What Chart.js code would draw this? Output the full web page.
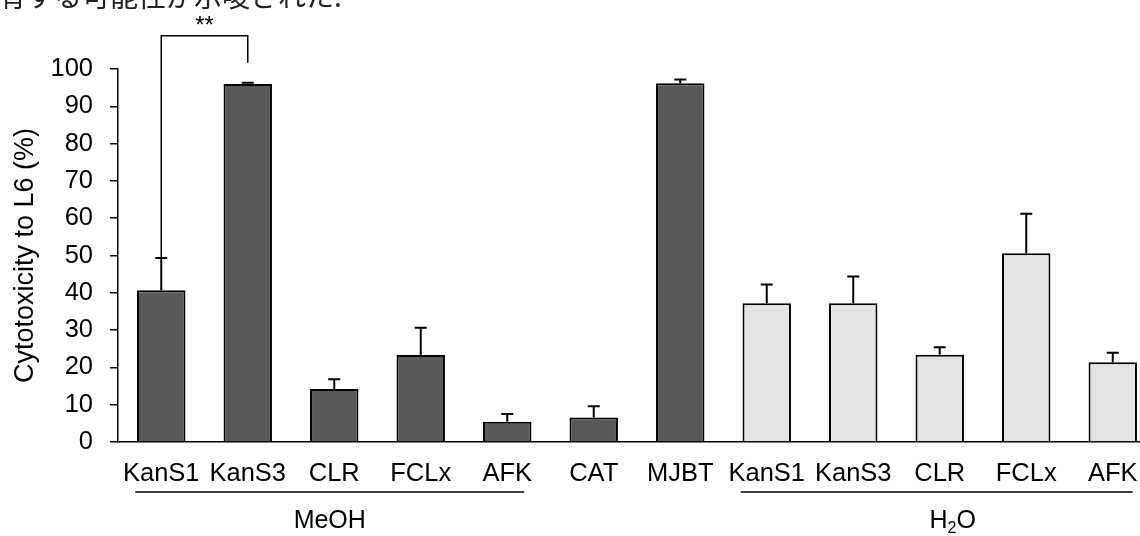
<!DOCTYPE html>
<html>
<head>
<meta charset="utf-8">
<script src="https://cdn.jsdelivr.net/npm/chart.js@4.4.1/dist/chart.umd.min.js"></script>
<style>
  html, body { margin: 0; padding: 0; background: #fff; overflow: hidden; }
  #wrap { width: 1156px; height: 536px; position: relative; }
</style>
</head>
<body>
<div id="wrap"><canvas id="myChart"></canvas></div>
<script>

const categories = ['KanS1', 'KanS3', 'CLR', 'FCLx', 'AFK', 'CAT', 'MJBT', 'KanS1', 'KanS3', 'CLR', 'FCLx', 'AFK'];
const cytotoxicity = [40.7, 96.0, 14.2, 23.3, 5.4, 6.6, 96.2, 37.2, 37.2, 23.4, 50.6, 21.4];
const errorSD = [8.6, 0.3, 2.6, 7.3, 2.1, 3.0, 1.0, 5.0, 7.2, 2.0, 10.6, 2.5];
const solvent = ['MeOH', 'MeOH', 'MeOH', 'MeOH', 'MeOH', '', '', 'H2O', 'H2O', 'H2O', 'H2O', 'H2O'];
const groups = [
    { name: 'MeOH', first: 0, last: 4 },
    { name: 'H2O', first: 7, last: 11 },
];
// significance: KanS1 vs KanS3 (MeOH), bracket levels in % units
const sigPair = [0, 1];
const sigLevels = [49.3, 108.9, 101.7];
const sigText = '**';
const yMin = 0, yMax = 100, yStep = 10;

const FONT = '"Liberation Sans", Arial, sans-serif';

const colors = solvent.map(s => s === 'H2O' ? '#e4e4e4' : '#595959');

const overlay = {
    id: 'overlay',
    afterDatasetsDraw(chart) {
        const ctx = chart.ctx;
        const y = chart.scales.y;
        const bars = chart.getDatasetMeta(0).data;
        ctx.save();
        ctx.strokeStyle = '#000';
        ctx.lineWidth = 2;
        bars.forEach((bar, i) => {
            const top = y.getPixelForValue(cytotoxicity[i] + errorSD[i]);
            ctx.beginPath();
            ctx.moveTo(bar.x, bar.y);
            ctx.lineTo(bar.x, top);
            ctx.moveTo(bar.x - 6, top);
            ctx.lineTo(bar.x + 6, top);
            ctx.stroke();
        });
        ctx.restore();
    },
    afterDraw(chart) {
        const ctx = chart.ctx;
        const x = chart.scales.x;
        const y = chart.scales.y;
        ctx.save();

        // cropped caption line from the page above
        ctx.fillStyle = '#222';
        ctx.font = '28px "Noto Sans CJK JP"';
        ctx.textAlign = 'left';
        ctx.textBaseline = 'alphabetic';
        ctx.fillText('有する可能性が示唆された.', -2, 7);

        // significance bracket
        const xa = x.getPixelForValue(sigPair[0]);
        const xb = x.getPixelForValue(sigPair[1]);
        ctx.strokeStyle = '#000';
        ctx.lineWidth = 1.5;
        ctx.beginPath();
        ctx.moveTo(xa, y.getPixelForValue(sigLevels[0]));
        ctx.lineTo(xa, y.getPixelForValue(sigLevels[1]));
        ctx.lineTo(xb, y.getPixelForValue(sigLevels[1]));
        ctx.lineTo(xb, y.getPixelForValue(sigLevels[2]));
        ctx.stroke();
        ctx.fillStyle = '#000';
        ctx.font = '24px ' + FONT;
        ctx.textAlign = 'center';
        ctx.fillText(sigText, (xa + xb) / 2, y.getPixelForValue(sigLevels[1]) - 3);

        // group underlines and names
        groups.forEach(g => {
            const x1 = x.getPixelForValue(g.first) - 26;
            const x2 = x.getPixelForValue(g.last) + (g.name === 'H2O' ? 20 : 17);
            const ly = 492;
            ctx.beginPath();
            ctx.lineWidth = 1.5;
            ctx.moveTo(x1, ly);
            ctx.lineTo(x2, ly);
            ctx.stroke();
            ctx.textBaseline = 'middle';
            const cx = (x1 + x2) / 2 + (g.name === 'H2O' ? 16 : 0);
            if (g.name === 'H2O') {
                ctx.font = '25px ' + FONT;
                const wH = ctx.measureText('H').width;
                const wO = ctx.measureText('O').width;
                ctx.font = '16px ' + FONT;
                const w2 = ctx.measureText('2').width;
                let sx = cx - (wH + w2 + wO) / 2;
                ctx.textAlign = 'left';
                ctx.font = '25px ' + FONT;
                ctx.fillText('H', sx, 521);
                ctx.font = '16px ' + FONT;
                ctx.fillText('2', sx + wH, 529);
                ctx.font = '25px ' + FONT;
                ctx.fillText('O', sx + wH + w2, 521);
            } else {
                ctx.textAlign = 'center';
                ctx.font = '25px ' + FONT;
                ctx.fillText(g.name, cx, 521);
            }
        });
        ctx.restore();
    }
};

const data = {
    labels: categories,
    datasets: [{
        label: 'Cytotoxicity',
        data: cytotoxicity,
        backgroundColor: colors,
        borderColor: '#000',
        borderWidth: 2,
        borderSkipped: 'bottom',
        barPercentage: 0.56,
        categoryPercentage: 1.0,
    }]
};

const config = {
    type: 'bar',
    data: data,
    plugins: [overlay],
    options: {
        responsive: true,
        maintainAspectRatio: false,
        animation: false,
        layout: {
            padding: { top: 69, right: 0, left: 0, bottom: 0 },
        },
        plugins: {
            legend: { display: false },
            tooltip: { enabled: false },
        },
        scales: {
            x: {
                grid: {
                    display: false,
                    drawTicks: false,
                },
                border: { color: '#000', width: 1.5 },
                ticks: {
                    color: '#000',
                    padding: 17,
                    maxRotation: 0,
                    autoSkip: false,
                    font: { family: FONT, size: 25.5 },
                },
                afterFit(scale) { scale.height = 94; },
            },
            y: {
                min: yMin,
                max: yMax,
                grid: {
                    display: true,
                    drawOnChartArea: false,
                    drawTicks: true,
                    tickLength: 8,
                    color: '#000',
                    lineWidth: 1.5,
                },
                border: { color: '#000', width: 1.5 },
                ticks: {
                    stepSize: yStep,
                    color: '#000',
                    padding: 17,
                    font: { family: FONT, size: 25.5 },
                },
                title: {
                    display: true,
                    text: 'Cytotoxicity to L6 (%)',
                    color: '#000',
                    padding: { top: 9, bottom: 0 },
                    font: { family: FONT, size: 27 },
                },
                afterFit(scale) { scale.width = 118; },
            },
        }
    }
};

const myChart = new Chart(
    document.getElementById('myChart'),
    config
);
</script>
</body>
</html>
